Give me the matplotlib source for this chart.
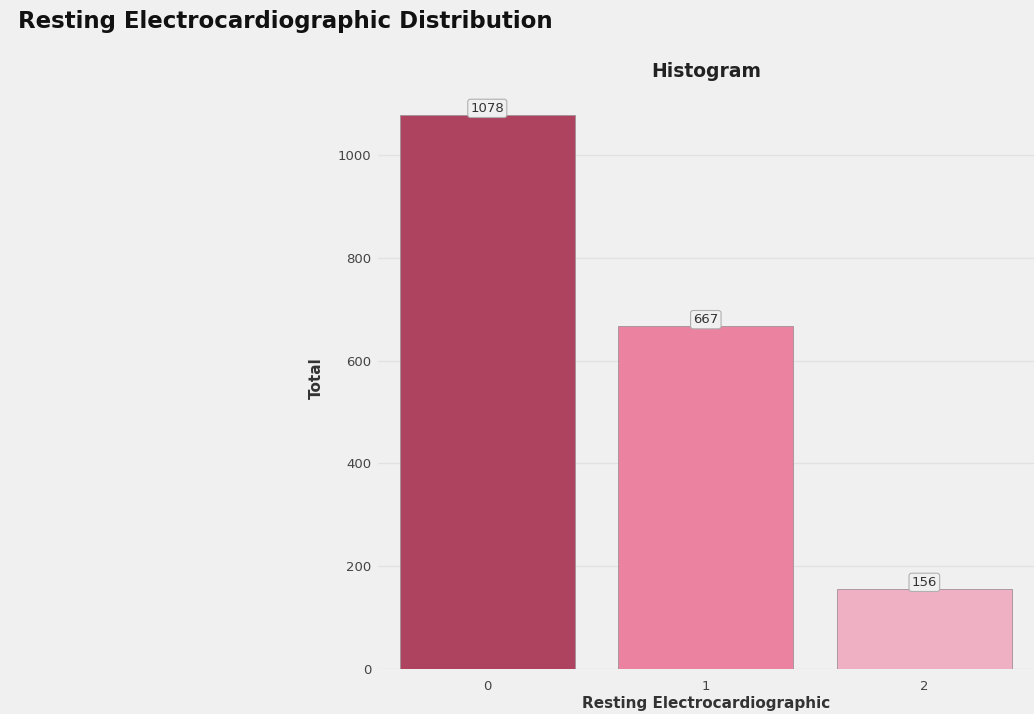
import matplotlib
matplotlib.use("Agg")
import matplotlib.pyplot as plt

categories = ["0", "1", "2"]
counts = [1078, 667, 156]
colors = ["#ae4360", "#ea82a0", "#efb0c4"]

bg = "#f0f0f0"
fig = plt.figure(figsize=(10.34, 7.14), dpi=100, facecolor=bg)
ax = fig.add_axes([0.3656, 0.063, 0.634, 0.815], facecolor=bg)

x = list(range(len(categories)))
bars = ax.bar(x, counts, width=0.8, color=colors, edgecolor="#a09098", linewidth=0.6, zorder=3)
for xi, c in zip(x, counts):
    ax.text(xi, c, str(c), ha="center", va="bottom", fontsize=9.5, color="#333333", zorder=4,
            bbox=dict(boxstyle="round,pad=0.2", fc=bg, ec="#b0b0b0", lw=0.8))

ax.set_xlim(-0.5, 2.5)
ax.set_ylim(0, 1132)
ax.set_xticks(x)
ax.set_xticklabels(categories)
ax.set_yticks([0, 200, 400, 600, 800, 1000])
ax.tick_params(axis="both", length=0, labelsize=9.5, colors="#444444")
ax.tick_params(axis="x", pad=8)
ax.tick_params(axis="y", pad=5)
ax.grid(axis="y", color="#e2e2e2", lw=1, zorder=0)
ax.grid(axis="x", visible=False)
for s in ax.spines.values():
    s.set_visible(False)

ax.set_title("Histogram", fontsize=13.5, fontweight="bold", color="#222222", pad=7)
ax.set_xlabel("Resting Electrocardiographic", fontsize=11, fontweight="bold", color="#333333", labelpad=2)
ax.set_ylabel("Total", fontsize=11, fontweight="bold", color="#333333", labelpad=10)

fig.text(0.017, 0.97, "Resting Electrocardiographic Distribution", fontsize=16.5, fontweight="bold",
         color="#111111", ha="left", va="center")

fig.savefig("out.png", dpi=100, facecolor=bg)
